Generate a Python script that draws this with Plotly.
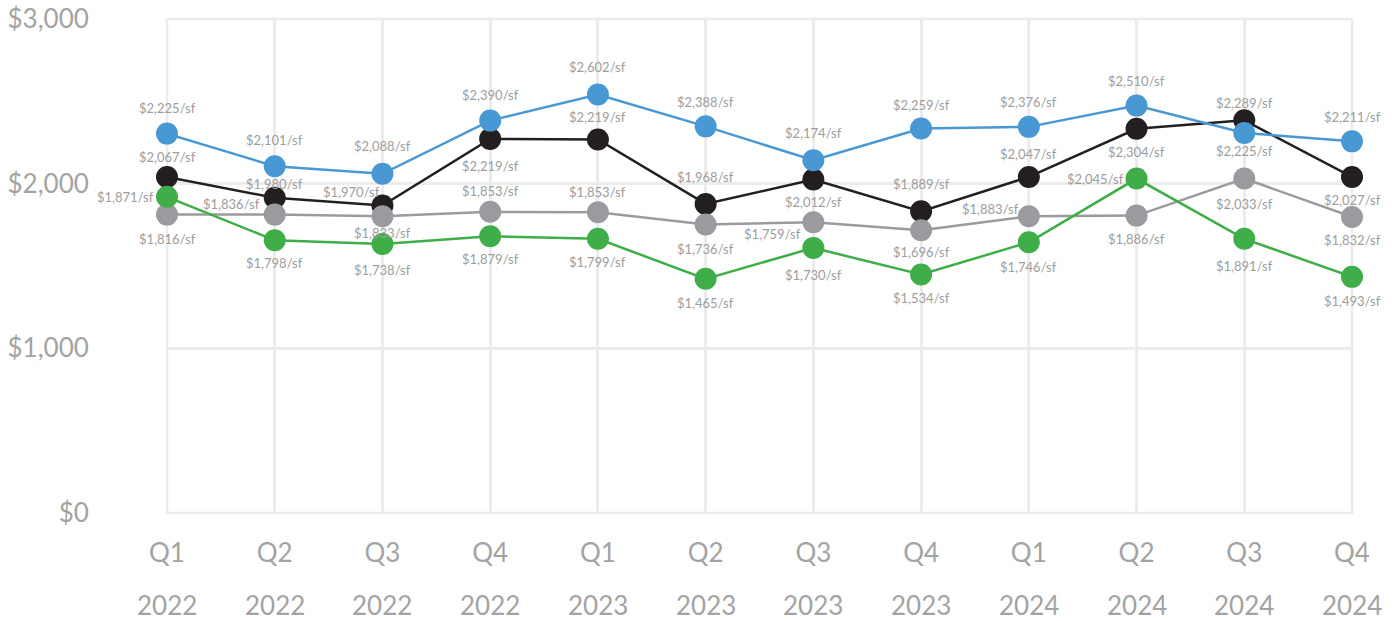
import plotly.graph_objects as go

quarters = ["Q1", "Q2", "Q3", "Q4", "Q1", "Q2", "Q3", "Q4", "Q1", "Q2", "Q3", "Q4"]
years = ["2022", "2022", "2022", "2022", "2023", "2023", "2023", "2023", "2024", "2024", "2024", "2024"]

# marker heights ($/sf)
blue_vals = [2304, 2106, 2060, 2383, 2541, 2348, 2142, 2335, 2345, 2474, 2308, 2257]
black_vals = [2041, 1914, 1867, 2272, 2268, 1877, 2025, 1832, 2041, 2333, 2385, 2041]
gray_vals = [1812, 1812, 1802, 1829, 1826, 1752, 1766, 1717, 1802, 1806, 2031, 1798]
green_vals = [1920, 1656, 1634, 1681, 1665, 1422, 1610, 1448, 1644, 2031, 1665, 1434]

# data labels as printed on the picture
blue_labels = [2225, 2101, 2088, 2390, 2602, 2388, 2174, 2259, 2376, 2510, 2225, 2211]
black_labels = [2067, 1980, 1970, 2219, 2219, 1968, 2012, 1889, 2047, 2304, 2289, 2027]
gray_labels = [1816, 1836, 1833, 1853, 1853, 1736, 1759, 1696, 1883, 1886, 2033, 1832]
green_labels = [1871, 1798, 1738, 1879, 1799, 1465, 1730, 1534, 1746, 2045, 1891, 1493]

y_ticks = [0, 1000, 2000, 3000]

# label offsets in screen pixels (style only): dx right-positive, dy down-positive
blue_dx = [0] * 12
blue_dy = [-26, -26, -28, -26, -28, -24, -27, -24, -25, -25, 18, -24]
black_dx = [0, 0, -31, 0, 0, 0, 0, 0, 0, 0, 0, 0]
black_dy = [-20, -14, -14, 27, -23, -27, 22, -27, -23, 23, -17, 23]
gray_dx = [0, -43, 0, 0, 0, 0, -41, 0, -38, 0, 0, 0]
gray_dy = [24, -11, 17, -21, -20, 24, 12, 22, -7, 23, 25, 23]
green_dx = [-42, 0, 0, 0, 0, 0, 0, 0, 0, -41, 0, 0]
green_dy = [0, 23, 26, 23, 23, 24, 27, 23, 25, 0, 27, 24]

x = list(range(len(quarters)))

def fmt(v):
    return f"${v:,}/sf"

series = [
    (black_vals, black_labels, black_dx, black_dy, "#231f20"),
    (gray_vals, gray_labels, gray_dx, gray_dy, "#9b9b9f"),
    (green_vals, green_labels, green_dx, green_dy, "#3fae49"),
    (blue_vals, blue_labels, blue_dx, blue_dy, "#4898d3"),
]

GRID = "#ececec"
fig = go.Figure()
for vals, labs, dxs, dys, col in series:
    fig.add_trace(go.Scatter(
        x=x, y=vals, mode="lines+markers",
        line=dict(color=col, width=2.5),
        marker=dict(color=col, size=22),
        cliponaxis=False,
        showlegend=False,
        hoverinfo="skip",
    ))
    for xi, v, lab, dx, dy in zip(x, vals, labs, dxs, dys):
        fig.add_annotation(x=xi, y=v, xref="x", yref="y", text=fmt(lab),
                           showarrow=False, xanchor="center", yanchor="middle",
                           xshift=dx, yshift=-dy,
                           font=dict(family="Lato", size=13, color="#9d9d9d"))

for i, yr in enumerate(years):
    fig.add_annotation(x=i, y=0, xref="x", yref="paper", text=yr,
                       showarrow=False, yanchor="middle", yshift=-92,
                       font=dict(family="Lato", size=26, color="#a3a3a3"))

fig.add_shape(type="rect", xref="paper", yref="paper", x0=0, x1=1, y0=0, y1=1,
              line=dict(color=GRID, width=2.5), layer="below")

fig.update_layout(
    width=1392, height=621,
    margin=dict(l=167, r=40, t=19, b=108),
    paper_bgcolor="white", plot_bgcolor="white",
    font=dict(family="Lato", color="#a3a3a3"),
)
fig.update_xaxes(
    range=[0, 11], tickmode="array", tickvals=x, ticktext=quarters,
    showgrid=True, gridcolor=GRID, gridwidth=2.5,
    zeroline=False, showline=False, automargin=False,
    ticks="outside", ticklen=17, tickcolor="rgba(0,0,0,0)",
    tickfont=dict(family="Lato", size=26, color="#a3a3a3"),
)
fig.update_yaxes(
    range=[0, 3000], tickmode="array", tickvals=y_ticks,
    ticktext=[f"${v:,}" for v in y_ticks],
    showgrid=True, gridcolor=GRID, gridwidth=2.5,
    zeroline=False, showline=False, automargin=False,
    ticks="outside", ticklen=72, tickcolor="rgba(0,0,0,0)",
    tickfont=dict(family="Lato", size=26, color="#a3a3a3"),
)

fig.write_html("out.html")
